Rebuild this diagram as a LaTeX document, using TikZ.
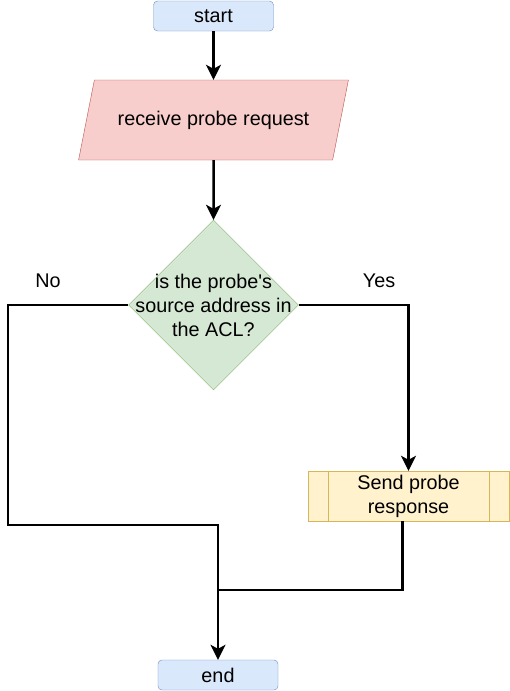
\documentclass[tikz,border=0pt]{standalone}
\usepackage{fontspec}
\setmainfont{Liberation Sans}
\usetikzlibrary{shapes.geometric,arrows.meta}
\definecolor{termfill}{HTML}{DAE8FC}
\definecolor{termline}{HTML}{6C8EBF}
\definecolor{iofill}{HTML}{F8CECC}
\definecolor{ioline}{HTML}{B85450}
\definecolor{askfill}{HTML}{D5E8D4}
\definecolor{askline}{HTML}{82B366}
\definecolor{procfill}{HTML}{FFF2CC}
\definecolor{procline}{HTML}{D6B656}
\begin{document}
\begin{tikzpicture}[x=1pt, y=-1pt,
    every node/.style = {font=\fontsize{19.8}{24}\selectfont},
    terminal/.style = {draw=termline, fill=termfill, rounded corners=4pt, minimum width=120pt, minimum height=30pt, inner sep=0pt},
    inout/.style = {draw=ioline, fill=iofill, trapezium, trapezium left angle=55.5, trapezium right angle=124.5, trapezium stretches=true, minimum width=270pt, minimum height=80pt, inner sep=0pt},
    decision/.style = {draw=askline, fill=askfill, diamond, minimum width=170pt, minimum height=170pt, inner sep=0pt},
    process/.style = {draw=procline, fill=procfill, minimum width=201pt, minimum height=50pt, inner sep=0pt, align=center},
    line/.style = {line width=2.5pt},
    flow/.style = {line, -{Stealth[length=15pt, width=15pt, inset=4pt]}}]
    \useasboundingbox (0,0) rectangle (509,691);
    % shapes
    \node[terminal] (start) at (213.5,16) {start};
    \node[inout] (recv) at (213.5,120) {receive probe request};
    \node[decision] (acl) at (213.5,305) {};
    \node[align=center] (acltext) at (acl) {is the probe\textquotesingle s\\source address in\\the ACL?};
    \node[process] (send) at (408.5,496) {Send probe\\response};
    \draw[procline] ([xshift=20pt]send.north west) -- ([xshift=20pt]send.south west);
    \draw[procline] ([xshift=-20pt]send.north east) -- ([xshift=-20pt]send.south east);
    \node[terminal] (stop) at (218,675) {end};
    % corners
    \coordinate (nocorner) at (8,525);
    \coordinate (merge) at (218,590);
    % connectors
    \draw[flow] (start) -- (recv);
    \draw[flow] (recv) -- (acl);
    \draw[flow] (acl.west) -| (nocorner) -| (stop.north);
    \draw[flow] (acl.east) -| (send.north);
    \draw[line] ([xshift=-6pt]send.south) |- (merge);
    % labels
    \node (no) at (48,281) {No};
    \node (yes) at (379,281) {Yes};
\end{tikzpicture}
\end{document}
